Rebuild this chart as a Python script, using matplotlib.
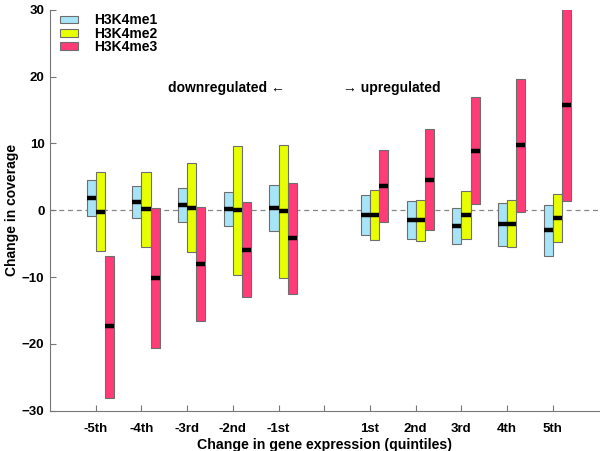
import matplotlib
matplotlib.use("Agg")
import matplotlib.pyplot as plt
import numpy as np
from matplotlib.patches import Patch

plt.rcParams["font.family"] = ["Liberation Sans", "DejaVu Sans"]

positions = [-5, -4, -3, -2, -1, 1, 2, 3, 4, 5]
tick_pos = [-5, -4, -3, -2, -1, 0, 1, 2, 3, 4, 5]
tick_labels = ["-5th", "-4th", "-3rd", "-2nd", "-1st", "", "1st", "2nd", "3rd", "4th", "5th"]
series = ["H3K4me1", "H3K4me2", "H3K4me3"]

# box top / bottom / median per quintile
me1_top = [4.45, 3.6, 3.35, 2.7, 3.8, 2.35, 1.35, 0.4, 1.15, 0.8]
me1_bot = [-0.8, -1.2, -1.8, -2.4, -3.05, -3.75, -4.25, -5.1, -5.3, -6.85]
me1_med = [1.85, 1.2, 0.8, 0.15, 0.35, -0.7, -1.45, -2.35, -2.05, -3.0]

me2_top = [5.65, 5.75, 7.0, 9.6, 9.75, 3.05, 1.6, 2.9, 1.5, 2.5]
me2_bot = [-6.15, -5.45, -6.2, -9.65, -10.1, -4.45, -4.65, -4.3, -5.45, -4.8]
me2_med = [-0.2, 0.2, 0.4, 0.0, -0.15, -0.7, -1.5, -0.7, -2.0, -1.15]

me3_top = [-6.8, 0.35, 0.5, 1.2, 4.1, 8.95, 12.1, 16.9, 19.65, 31.0]
me3_bot = [-28.1, -20.6, -16.55, -13.0, -12.5, -1.8, -3.0, 0.9, -0.3, 1.45]
me3_med = [-17.4, -10.15, -8.05, -5.9, -4.2, 3.6, 4.55, 8.9, 9.7, 15.8]

colors = ["#a8e4f8", "#e8ff00", "#ff3b78"]
offsets = [-0.2, 0.0, 0.2]
width = 0.2

fig = plt.figure(figsize=(6, 4.51), dpi=100)
ax = fig.add_axes([0.0833, 0.0894, 0.9167, 0.889])

ax.axhline(0, color="#888888", lw=0.9, ls=(0, (4, 3)), zorder=1)

x = np.array(positions, dtype=float)
data = [(me1_top, me1_bot, me1_med), (me2_top, me2_bot, me2_med), (me3_top, me3_bot, me3_med)]
for (top, bot, med), col, off in zip(data, colors, offsets):
    top = np.array(top)
    bot = np.array(bot)
    ax.bar(x + off, top - bot, bottom=bot, width=width, align="edge",
           color=col, edgecolor="#6e6e6e", linewidth=0.8, zorder=2)
    ax.hlines(med, x + off, x + off + width, color="black", lw=3.2, zorder=3)

ax.set_xlim(-6, 6.03)
ax.set_ylim(-30, 30)
ax.set_yticks([-30, -20, -10, 0, 10, 20, 30])
ax.set_xticks(tick_pos)
ax.set_xticklabels(tick_labels)
ax.tick_params(direction="in", length=4, color="#777777", labelsize=9.5)
ax.tick_params(axis="y", pad=4)
ax.tick_params(axis="x", pad=9)
for lab in ax.get_xticklabels() + ax.get_yticklabels():
    lab.set_fontweight("bold")
ax.spines["top"].set_visible(False)
ax.spines["right"].set_visible(False)
ax.spines["left"].set_color("#777777")
ax.spines["bottom"].set_color("#777777")

ax.set_xlabel("Change in gene expression (quintiles)", fontsize=10.2,
              fontweight="bold", labelpad=2)
ax.set_ylabel("Change in coverage", fontsize=10, fontweight="bold")
ax.yaxis.set_label_coords(-0.057, 0.5)

ax.text(-3.41, 18.3, "downregulated \u2190", fontsize=10, fontweight="bold",
        va="center", ha="left", family=["Liberation Sans", "DejaVu Sans"])
ax.text(0.41, 18.3, "\u2192 upregulated", fontsize=10, fontweight="bold",
        va="center", ha="left", family=["Liberation Sans", "DejaVu Sans"])

handles = [Patch(facecolor=c, edgecolor="#6e6e6e", linewidth=0.8) for c in colors]
leg = ax.legend(handles, series, loc="upper left", bbox_to_anchor=(0.0, 1.015),
                frameon=False, fontsize=10, handlelength=1.3, handleheight=0.5,
                labelspacing=-0.05, handletextpad=1.2, borderaxespad=0.3)
for t in leg.get_texts():
    t.set_fontweight("bold")

fig.savefig("out.png", dpi=100)
